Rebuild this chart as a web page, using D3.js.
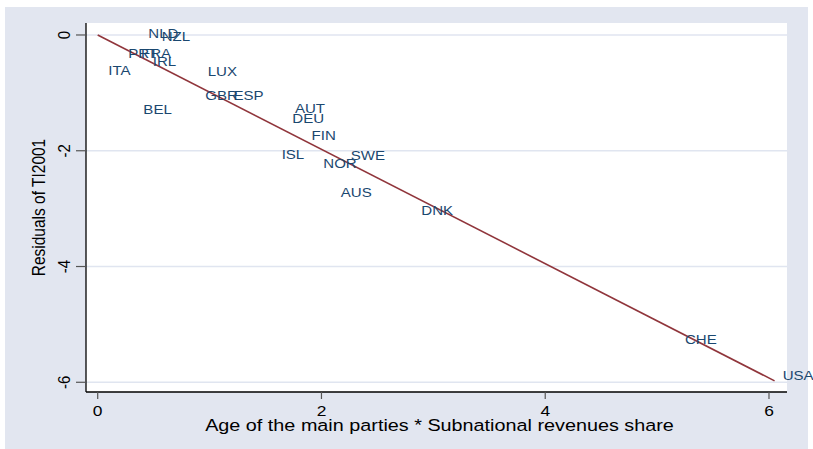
<!DOCTYPE html>
<html>
<head>
<meta charset="utf-8">
<script src="https://cdn.jsdelivr.net/npm/d3@7"></script>
<style>
  html, body { margin: 0; padding: 0; background: #ffffff; }
  svg { display: block; font-family: "Liberation Sans", Arial, sans-serif; }
</style>
</head>
<body>
<svg id="chart" width="813" height="449"></svg>
<script>
// Country codes and their added-variable coordinates
const countries = ["NLD","NZL","PRT","FRA","IRL","ITA","LUX","GBR","ESP","BEL",
                   "AUT","DEU","FIN","ISL","SWE","NOR","AUS","DNK","CHE","USA"];
const ageTimesRevenue = [0.452, 0.572, 0.273, 0.387, 0.492, 0.095, 0.983, 0.962, 1.214, 0.408,
                         1.763, 1.739, 1.912, 1.644, 2.261, 2.016, 2.172, 2.892, 5.249, 6.122];
const residualsTI = [0.029, -0.017, -0.323, -0.320, -0.449, -0.609, -0.626, -1.047, -1.045, -1.282,
                     -1.277, -1.437, -1.738, -2.066, -2.076, -2.214, -2.714, -3.032, -5.251, -5.884];

// Fitted line endpoints
const fitX = [0, 6.05];
const fitY = [0, -5.976];

// Axis ticks
const xTicks = [0, 2, 4, 6];
const yTicks = [0, -2, -4, -6];

const svg = d3.select("#chart");
const W = 813, H = 449;
const plot = { left: 86, right: 787, top: 23, bottom: 392 };
const stretch = 1.16;

const x = d3.scaleLinear().domain([-0.1046, 6.161]).range([plot.left, plot.right]);
const y = d3.scaleLinear().domain([0.207, -6.168]).range([plot.top, plot.bottom]);

// Graph region background
svg.append("rect").attr("x", 5).attr("y", 7).attr("width", 803).attr("height", H - 7)
  .attr("fill", "#e2e6f0");

// Plot region
svg.append("rect").attr("x", plot.left).attr("y", plot.top)
  .attr("width", plot.right - plot.left).attr("height", plot.bottom - plot.top)
  .attr("fill", "#ffffff");

// Horizontal gridlines
svg.append("g").selectAll("line").data(yTicks).join("line")
  .attr("x1", plot.left).attr("x2", plot.right)
  .attr("y1", d => y(d)).attr("y2", d => y(d))
  .attr("stroke", "#e0e5f0").attr("stroke-width", 1.5);

// Fitted line
const fitData = fitX.map((v, i) => [v, fitY[i]]);
svg.append("path").datum(fitData)
  .attr("d", d3.line().x(d => x(d[0])).y(d => y(d[1])))
  .attr("fill", "none").attr("stroke", "#90353b").attr("stroke-width", 1.6);

// Country labels
const pts = countries.map((c, i) => ({ c, vx: ageTimesRevenue[i], vy: residualsTI[i] }));
svg.append("g").selectAll("text").data(pts).join("text")
  .attr("transform", d => `translate(${x(d.vx)},${y(d.vy) + 4.6}) scale(${stretch},1)`)
  .attr("font-size", 13).attr("fill", "#1a476f")
  .text(d => d.c);

// Axes lines
svg.append("line").attr("x1", plot.left).attr("x2", plot.left)
  .attr("y1", plot.top).attr("y2", plot.bottom).attr("stroke", "#000").attr("stroke-width", 1.3);
svg.append("line").attr("x1", plot.left).attr("x2", plot.right)
  .attr("y1", plot.bottom).attr("y2", plot.bottom).attr("stroke", "#000").attr("stroke-width", 1.3);

// X ticks and labels
const xg = svg.append("g");
xg.selectAll("line").data(xTicks).join("line")
  .attr("x1", d => x(d)).attr("x2", d => x(d))
  .attr("y1", plot.bottom).attr("y2", plot.bottom + 7)
  .attr("stroke", "#555").attr("stroke-width", 1.2);
xg.selectAll("text").data(xTicks).join("text")
  .attr("transform", d => `translate(${x(d)},416) scale(${stretch},1)`)
  .attr("text-anchor", "middle").attr("font-size", 15).attr("fill", "#000")
  .text(d => d);

// Y ticks and labels (rotated)
const yg = svg.append("g");
yg.selectAll("line").data(yTicks).join("line")
  .attr("x1", plot.left - 10).attr("x2", plot.left)
  .attr("y1", d => y(d)).attr("y2", d => y(d))
  .attr("stroke", "#555").attr("stroke-width", 1.2);
yg.selectAll("text").data(yTicks).join("text")
  .attr("transform", d => `translate(70,${y(d)}) scale(${stretch},1) rotate(-90)`)
  .attr("text-anchor", "middle").attr("font-size", 15).attr("fill", "#000")
  .text(d => d === 0 ? "0" : "-" + Math.abs(d));

// Axis titles
svg.append("text")
  .attr("transform", `translate(${(plot.left + plot.right) / 2 + 3},431) scale(1.2,1)`)
  .attr("text-anchor", "middle").attr("font-size", 16.5).attr("fill", "#000")
  .text("Age of the main parties * Subnational revenues share");

svg.append("text")
  .attr("transform", `translate(45,${(plot.top + plot.bottom) / 2}) scale(${stretch},1) rotate(-90)`)
  .attr("text-anchor", "middle").attr("font-size", 15.5).attr("fill", "#000")
  .text("Residuals of TI2001");
</script>
</body>
</html>
